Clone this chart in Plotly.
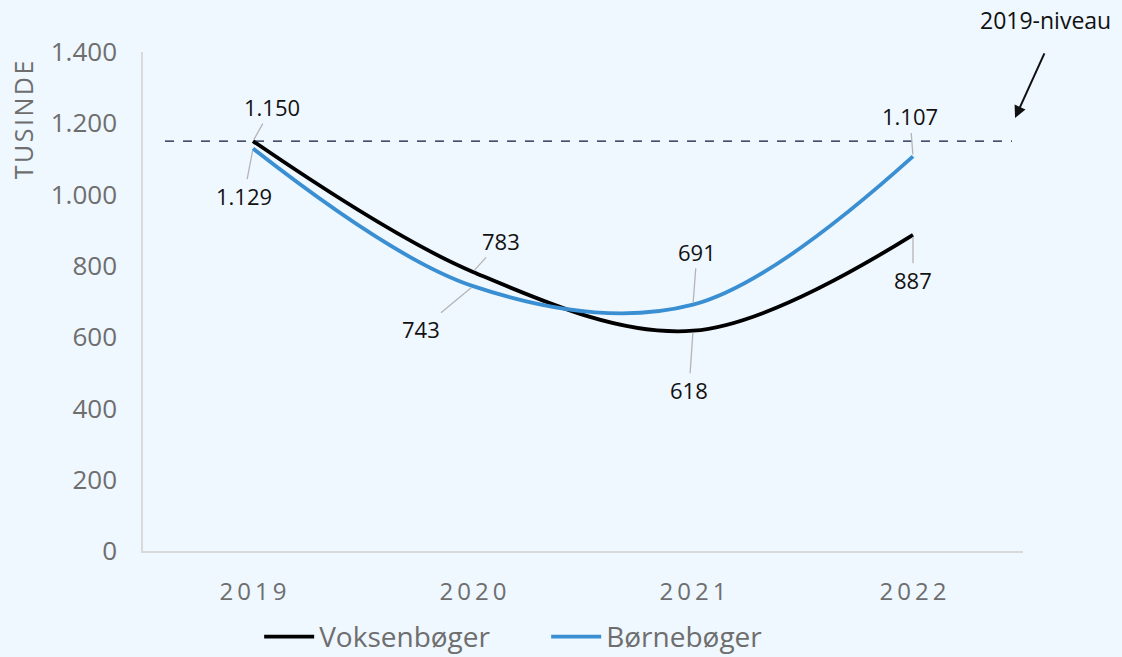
import plotly.graph_objects as go

years = ["2019", "2020", "2021", "2022"]
year_labels = ["2\u20090\u20091\u20099", "2\u20090\u20092\u20090", "2\u20090\u20092\u20091", "2\u20090\u20092\u20092"]
voksen = [1150, 783, 618, 887]
boerne = [1129, 743, 691, 1107]
level_2019 = 1150
y_ticks = [0, 200, 400, 600, 800, 1000, 1200, 1400]

BG = "#EFF7FF"
GREY = "#6E6E6E"
FONT = "Open Sans"

fig = go.Figure()
fig.add_trace(go.Scatter(x=years, y=voksen, mode="lines", name="Voksenbøger",
                         line=dict(color="#000000", width=3.8, shape="spline", smoothing=1.0)))
fig.add_trace(go.Scatter(x=years, y=boerne, mode="lines", name="Børnebøger",
                         line=dict(color="#3A8FD2", width=3.8, shape="spline", smoothing=1.0)))

# 2019 reference level
fig.add_shape(type="line", xref="x", yref="y", x0=-0.4, x1=3.45, y0=level_2019, y1=level_2019,
              line=dict(color="#0F1A3A", width=1.3, dash="dash"))

def fmt(v):
    return f"{v:,}".replace(",", ".")

# value labels with grey leader lines (offsets in px from the data point)
offsets_v = [(19, -34), (28, -31), (-4, 59), (0, 45)]
offsets_b = [(-9, 47), (-52, 43), (4, -53), (-3, -40)]
for i in range(len(years)):
    for vals, (ax, ay) in ((voksen, offsets_v[i]), (boerne, offsets_b[i])):
        fig.add_annotation(x=i, y=vals[i], text=fmt(vals[i]), showarrow=True,
                           arrowhead=0, arrowwidth=1.3, arrowcolor="#B5B5B5",
                           ax=ax, ay=ay, standoff=2,
                           font=dict(family=FONT, size=22, color="#111111"))

fig.add_annotation(xref="paper", yref="paper", x=1.025, y=1.064, text="2019-niveau",
                   showarrow=False, font=dict(family=FONT, size=23, color="#111111"),
                   xanchor="center", yanchor="middle")
fig.add_annotation(xref="paper", yref="y", x=0.991, y=1215, ax=30, ay=-66,
                   showarrow=True, arrowhead=2, arrowsize=1.2, arrowwidth=2,
                   arrowcolor="#111111", text="")

fig.add_annotation(xref="paper", yref="paper", x=-0.136, y=0.864,
                   text="T\u200aU\u200aS\u200aI\u200aN\u200aD\u200aE",
                   textangle=-90, showarrow=False, xanchor="center", yanchor="middle",
                   font=dict(family=FONT, size=25, color=GREY))

fig.update_layout(
    width=1122, height=657,
    paper_bgcolor=BG, plot_bgcolor=BG,
    margin=dict(l=143, r=99, t=52, b=106, autoexpand=False),
    separators=",.",
    showlegend=True,
    legend=dict(orientation="h", x=0.132, xanchor="left", y=-0.172, yanchor="middle",
                font=dict(family=FONT, size=28, color=GREY), itemwidth=50,
                entrywidth=222, bgcolor="rgba(0,0,0,0)"),
    font=dict(family=FONT, color=GREY),
)
fig.update_xaxes(type="category", range=[-0.5, 3.5], tickvals=years, ticktext=year_labels,
                 showgrid=False, showline=True, linecolor="#D9D9D9", linewidth=1.5,
                 ticks="", tickfont=dict(family=FONT, size=24, color=GREY),
                 ticklabelstandoff=18, zeroline=False)
fig.update_yaxes(range=[0, 1400], tickvals=y_ticks, tickformat=",d", showgrid=False,
                 showline=True, linecolor="#D9D9D9", linewidth=1.5, ticks="",
                 tickfont=dict(family=FONT, size=26, color=GREY),
                 ticklabelstandoff=19, zeroline=False)

fig.write_html("out.html")
